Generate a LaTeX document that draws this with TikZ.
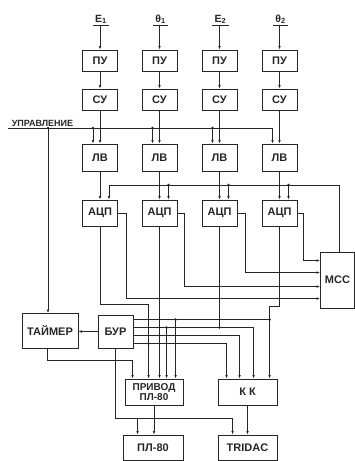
\documentclass[tikz,border=0pt]{standalone}
\usepackage{fontspec}
\setmainfont{Liberation Sans}
\usetikzlibrary{arrows.meta,calc}
\begin{document}
\begin{tikzpicture}[x=1pt,y=-1pt,line width=0.6pt,color=black!85,
  blk/.style={draw,line width=0.9pt,minimum width=35pt,minimum height=21pt,inner sep=0pt,
    font=\bfseries\fontsize{11}{11}\selectfont},
  lab/.style={inner sep=1pt,font=\bfseries\fontsize{10.5}{10.5}\selectfont},
  arr/.style={-{Latex[length=3.5pt,width=2.6pt]}},
  dot/.style={circle,fill,draw=none,inner sep=0pt,minimum size=2.8pt}]
\path[use as bounding box,fill=white] (0,0) rectangle (355,461);

% columns
\foreach \i/\x/\t in {1/100/E\textsubscript{1},2/159.5/θ\textsubscript{1},3/219.5/E\textsubscript{2},4/279.5/θ\textsubscript{2}} {
  \node[lab,anchor=south] (in\i) at (\x+1,25) {\t};
  \node[blk] (pu\i) at (\x,60.5) {ПУ};
  \node[blk] (su\i) at (\x,99.5) {СУ};
  \node[blk,minimum height=27pt] (lv\i) at (\x,157.5) {ЛВ};
  \node[blk,minimum height=26pt] (adc\i) at (\x,213) {АЦП};
  \draw ($(in\i.south west)+(-1,0)$) -- ($(in\i.south east)+(1,0)$);
  \draw[arr] (pu\i.north |- in\i.south) -- (pu\i.north);
  \draw[arr] (pu\i) -- (su\i);
  \draw[arr] (su\i) -- (lv\i);
  \draw[arr] (lv\i) -- (adc\i);
}

% other blocks
\node[blk,minimum width=34pt,minimum height=56pt] (mcc) at (337.5,280) {МСС};
\node[blk,minimum width=56pt,minimum height=35pt] (tm) at (50,331) {ТАЙМЕР};
\node[blk,minimum width=35pt,minimum height=33pt] (bur) at (115.5,331.5) {БУР};
\node[blk,minimum width=58pt,minimum height=26pt,align=center,
  font=\bfseries\fontsize{10}{9.5}\selectfont] (pr) at (154,392) {ПРИВОД\\ПЛ-80};
\node[blk,minimum width=59pt,minimum height=26pt] (kk) at (247.5,392) {К К};
\node[blk,minimum width=60pt,minimum height=25pt] (pl) at (153,447.5) {ПЛ-80};
\node[blk,minimum width=59pt,minimum height=25pt] (tr) at (247.5,447.5) {TRIDAC};

% control line
\node[anchor=south west,inner sep=0.5pt,font=\bfseries\fontsize{9}{9}\selectfont] (upr) at (11,127) {УПРАВЛЕНИЕ};
\coordinate (c0) at (8,128);
\coordinate (c4) at (272.5,128);
\coordinate (ct) at (48,128);
\draw (c0) -- (c4);
\draw[arr] (c4) -- (c4 |- lv4.north);
\foreach \i in {1,2,3} {
  \path (lv\i.north) ++(-7,0) coordinate (t\i);
  \draw[arr] (t\i |- c0) -- (t\i);
  \node[dot] at (t\i |- c0) {};
}
\node[dot] at (ct) {};
\draw[arr] (ct) -- (ct |- tm.north);

% feedback from MCC
\coordinate (fbl) at (0,185);
\foreach \i in {1,2,3,4} { \path (adc\i.north) ++(9,0) coordinate (f\i); }
\draw[arr] ($(mcc.north)+(1.5,0)$) |- (f1 |- fbl) -- (f1);
\foreach \i in {2,3,4} {
  \draw[arr] (f\i |- fbl) -- (f\i);
  \node[dot] at (f\i |- fbl) {};
}

% ADC outputs to MCC
\draw[arr] (adc1.east) -- ++(8,0) |- ($(mcc.north west)+(0,47)$);
\draw[arr] (adc2.east) -- ++(7,0) |- ($(mcc.north west)+(0,35)$);
\draw[arr] (adc3.east) -- ++(8,0) |- ($(mcc.north west)+(0,21)$);
\draw[arr] (adc4.east) -- ++(6,0) |- ($(mcc.north west)+(0,9)$);

% input points of ПРИВОД and К К
\coordinate (p0) at ($(pr.north west)+(8,0)$);
\coordinate (p1) at ($(pr.north west)+(24,0)$);
\coordinate (p2) at (adc2.south |- pr.north);
\coordinate (p3) at ($(pr.north west)+(42,0)$);
\coordinate (p4) at ($(pr.north west)+(51,0)$);
\coordinate (k1) at ($(kk.north west)+(9,0)$);
\coordinate (k2) at ($(kk.north west)+(22,0)$);
\coordinate (k3) at ($(kk.north west)+(36,0)$);
\coordinate (k4) at ($(kk.north west)+(52,0)$);
\coordinate (r1) at ($(bur.north east)+(0,5)$);
\coordinate (r2) at ($(bur.north east)+(0,13)$);
\coordinate (r3) at ($(bur.north east)+(0,21)$);
\coordinate (r4) at ($(bur.north east)+(0,29)$);

% ADC down lines
\draw[arr] (adc1.south) |- ($(p1)+(0,-74)$) -- (p1);
\draw[arr] (adc2.south) -- (p2);
\draw (adc3.south) -- (adc3.south |- r2);
\draw[arr] (adc4.south) |- ($(k4)+(0,-72)$) -- (k4);

% БУР outputs
\draw (r1) -- (k4 |- r1);
\node[dot] at (k4 |- r1) {};
\node[dot] at (p4 |- r1) {};
\draw[arr] (p4 |- r1) -- (p4);
\draw[arr] (r2) -| (k3);
\node[dot] at (p3 |- r2) {};
\node[dot] at (adc3.south |- r2) {};
\draw[arr] (p3 |- r2) -- (p3);
\draw[arr] (r3) -| (k2);
\node[dot] at (p2 |- r3) {};
\draw[arr] (r4) -| (k1);
\node[dot] at (p1 |- r4) {};

% БУР to ТАЙМЕР
\draw[arr] (bur.west) -- (bur.west -| tm.east);

% ТАЙМЕР to ПРИВОД
\path (tm.south) ++(-3,0) coordinate (ts);
\draw[arr] (ts) |- ($(p0)+(0,-18)$) -- (p0);

% БУР bottom to ПЛ-80 and TRIDAC
\coordinate (l1) at ($(pl.north west)+(15,0)$);
\coordinate (d1) at ($(tr.north west)+(15,0)$);
\draw[arr] (bur.south) |- ($(d1)+(0,-16)$) -- (d1);
\draw[arr] ($(l1)+(0,-16)$) -- (l1);
\draw[arr] (pr.south) -- (pr.south |- pl.north);
\draw[arr] (kk.south) -- (kk.south |- tr.north);
\end{tikzpicture}
\end{document}
